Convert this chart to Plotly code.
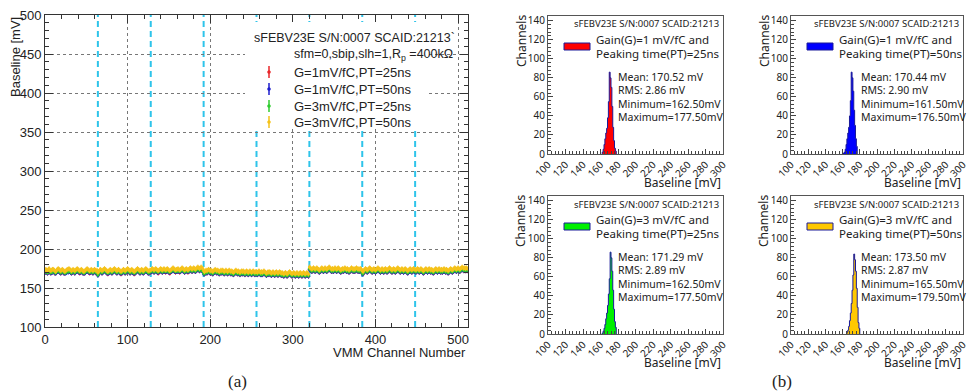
import plotly.graph_objects as go

W, H = 967, 391
def PX(x): return x / W
def PY(y): return 1 - y / H

# ---------------- data ----------------
vmm_boundaries = [64, 128, 192, 256, 320, 384, 448]

baseline_g3_pt50 = [
173,174,173,172,174,175,173,172,173,174,174,173,172,171,173,174,175,174,173,172,173,174,173,172,171,172,173,174,174,175,174,173,
172,173,174,173,172,173,174,175,174,173,172,173,174,173,172,171,172,173,174,175,174,173,172,173,174,173,172,173,174,173,172,173,
170,171,173,174,173,172,173,174,175,174,173,172,171,172,173,174,173,172,173,174,175,174,173,172,173,174,173,172,171,172,173,174,
173,172,173,174,175,174,173,172,173,174,173,172,171,172,173,174,175,174,173,172,173,174,173,172,173,174,175,174,173,172,172,173,
173,174,175,174,173,174,175,174,173,172,173,174,175,174,173,174,175,174,173,174,175,174,173,172,173,174,175,176,175,174,173,174,
174,175,174,173,174,175,176,175,174,173,174,175,174,173,174,175,176,175,174,175,176,175,174,175,176,177,176,175,176,177,176,175,
172,171,172,173,172,173,174,173,172,173,172,171,172,173,174,173,172,173,172,171,172,173,172,173,172,171,172,173,172,171,172,173,
172,171,172,171,170,171,172,173,172,171,172,171,170,171,172,171,172,171,170,171,172,171,170,171,172,171,170,171,172,171,170,171,
171,170,171,172,171,170,171,170,171,172,171,170,169,170,171,170,171,170,169,170,171,170,169,170,171,170,169,170,171,170,169,170,
169,168,169,170,169,168,169,170,171,170,169,168,169,170,169,168,169,170,169,168,169,170,169,168,169,170,169,168,169,170,169,168,
177,176,175,174,175,176,175,174,175,176,175,174,173,174,175,176,175,174,175,176,175,174,175,176,177,176,175,174,175,174,175,176,
175,174,175,176,175,174,173,174,175,174,175,176,175,174,175,174,173,174,175,176,175,174,175,174,175,176,175,174,175,174,175,174,
172,171,173,174,175,174,173,174,175,176,175,174,173,174,175,174,173,174,175,176,175,174,173,174,175,174,173,174,175,174,173,174,
175,176,175,174,173,174,175,174,173,174,175,176,175,174,173,174,175,174,173,174,175,174,173,172,173,174,175,174,173,174,175,174,
174,173,174,175,174,173,174,175,174,173,172,173,174,175,174,173,174,175,174,173,174,173,172,173,174,175,174,173,174,175,174,173,
174,173,174,175,174,173,174,173,172,173,174,175,174,173,174,175,176,175,174,175,176,175,174,175,176,177,176,175,176,175,176,175,
]

baseline_g3_pt25 = [
171,171,172,170,171,173,172,170,171,171,172,172,170,170,171,172,172,173,171,170,172,172,171,170,170,170,171,172,171,173,172,171,
170,171,172,172,170,171,172,173,172,171,171,171,172,171,170,170,170,171,172,173,172,171,171,171,172,171,170,171,172,172,170,171,
167,169,171,172,171,170,171,172,173,172,171,170,170,170,171,172,171,170,171,172,173,172,171,170,171,172,171,170,170,170,171,172,
171,170,171,172,173,172,171,170,171,172,171,170,170,170,171,172,173,172,171,170,171,172,171,170,171,172,173,172,171,170,170,171,
172,172,173,172,171,172,173,172,171,171,172,172,173,172,171,172,173,172,172,172,173,172,171,171,172,172,173,174,173,172,172,172,
172,173,172,172,172,173,174,173,172,171,172,173,172,172,172,173,174,173,172,173,174,173,172,173,174,175,174,173,174,174,173,172,
169,169,170,171,170,171,172,171,170,171,170,169,170,171,172,171,170,171,170,169,170,171,170,171,170,169,170,171,170,169,170,171,
170,169,170,169,168,169,170,171,170,169,170,169,168,169,170,169,170,169,168,169,170,169,168,169,170,169,168,169,170,169,168,169,
169,168,169,170,169,168,168,168,169,170,169,168,167,168,169,168,169,168,167,168,169,168,167,168,169,168,167,168,169,168,167,168,
167,166,167,168,167,166,167,168,169,168,167,166,167,168,167,166,167,168,167,166,167,168,167,166,167,168,167,166,167,168,167,166,
175,174,173,172,173,174,173,172,173,174,173,172,171,172,173,174,173,172,173,174,173,172,173,174,175,174,173,172,173,172,173,174,
173,172,173,174,173,172,171,172,173,172,173,174,173,172,173,172,171,172,173,174,173,172,173,172,173,174,173,172,173,172,173,172,
169,169,171,172,173,172,171,172,173,174,173,172,171,172,173,172,171,172,173,174,173,172,171,172,173,172,171,172,173,172,171,172,
173,174,173,172,171,172,173,172,171,172,173,174,173,172,171,172,173,172,171,172,173,172,171,170,171,172,173,172,171,172,173,172,
172,171,172,173,172,171,172,173,172,171,170,171,172,173,172,171,172,173,172,171,172,171,170,171,172,173,172,171,172,173,172,171,
172,171,172,173,172,171,172,171,170,171,172,173,172,171,172,173,174,173,172,173,174,173,172,173,174,175,174,173,174,173,174,173,
]

baseline_g1_pt50 = [
170,170,171,169,170,172,171,169,170,170,171,171,169,169,170,171,171,172,170,169,171,171,170,169,169,169,170,171,170,172,171,170,
169,170,171,171,169,170,171,172,171,170,170,170,171,170,169,169,169,170,171,172,171,170,170,170,171,170,169,170,171,171,169,170,
166,168,170,171,170,169,170,171,172,171,170,169,169,169,170,171,170,169,170,171,172,171,170,169,170,171,170,169,169,169,170,171,
170,169,170,171,172,171,170,169,170,171,170,169,169,169,170,171,172,171,170,169,170,171,170,169,170,171,172,171,170,169,169,170,
171,171,172,171,170,171,172,171,170,170,171,171,172,171,170,171,172,171,171,171,172,171,170,170,171,171,172,173,172,171,171,171,
171,172,171,171,171,172,173,172,171,170,171,172,171,171,171,172,173,172,171,172,173,172,171,172,173,174,173,172,173,173,172,171,
168,168,169,170,169,170,171,170,169,170,169,168,169,170,171,170,169,170,169,168,169,170,169,170,169,168,169,170,169,168,169,170,
169,168,169,168,167,168,169,170,169,168,169,168,167,168,169,168,169,168,167,168,169,168,167,168,169,168,167,168,169,168,167,168,
168,167,168,169,168,167,167,167,168,169,168,167,166,167,168,167,168,167,166,167,168,167,166,167,168,167,166,167,168,167,166,167,
166,165,166,167,166,165,166,167,168,167,166,165,166,167,166,165,166,167,166,165,166,167,166,165,166,167,166,165,166,167,166,165,
174,173,172,171,172,173,172,171,172,173,172,171,170,171,172,173,172,171,172,173,172,171,172,173,174,173,172,171,172,171,172,173,
172,171,172,173,172,171,170,171,172,171,172,173,172,171,172,171,170,171,172,173,172,171,172,171,172,173,172,171,172,171,172,171,
168,168,170,171,172,171,170,171,172,173,172,171,170,171,172,171,170,171,172,173,172,171,170,171,172,171,170,171,172,171,170,171,
172,173,172,171,170,171,172,171,170,171,172,173,172,171,170,171,172,171,170,171,172,171,170,169,170,171,172,171,170,171,172,171,
171,170,171,172,171,170,171,172,171,170,169,170,171,172,171,170,171,172,171,170,171,170,169,170,171,172,171,170,171,172,171,170,
171,170,171,172,171,170,171,170,169,170,171,172,171,170,171,172,173,172,171,172,173,172,171,172,173,174,173,172,173,172,173,172,
]

baseline_g1_pt25 = [
170,171,170,169,171,171,170,169,170,171,171,170,169,169,170,171,172,171,170,169,170,171,170,169,169,170,170,171,171,172,171,170,
169,170,171,170,169,170,171,172,171,170,169,170,171,170,169,169,169,170,171,172,171,170,169,170,171,170,169,170,171,170,169,170,
167,168,170,171,170,169,170,171,172,171,170,169,168,169,170,171,170,169,170,171,172,171,170,169,170,171,170,169,168,169,170,171,
170,169,170,171,172,171,170,169,170,171,170,169,168,169,170,171,172,171,170,169,170,171,170,169,170,171,172,171,170,169,169,170,
170,171,172,171,170,171,172,171,170,169,170,171,172,171,170,171,172,171,170,171,172,171,170,169,170,171,172,173,172,171,170,171,
171,172,171,170,171,172,173,172,171,170,171,172,171,170,171,172,173,172,171,172,173,172,171,172,173,174,173,172,173,174,173,172,
169,168,169,170,169,170,171,170,169,170,169,168,169,170,171,170,169,170,169,168,169,170,169,170,169,168,169,170,169,168,169,170,
169,168,169,168,167,168,169,170,169,168,169,168,167,168,169,168,169,168,167,168,169,168,167,168,169,168,167,168,169,168,167,168,
168,167,168,169,168,167,168,167,168,169,168,167,166,167,168,167,168,167,166,167,168,167,166,167,168,167,166,167,168,167,166,167,
166,165,166,167,166,165,166,167,168,167,166,165,166,167,166,165,166,167,166,165,166,167,166,165,166,167,166,165,166,167,166,165,
174,173,172,171,172,173,172,171,172,173,172,171,170,171,172,173,172,171,172,173,172,171,172,173,174,173,172,171,172,171,172,173,
172,171,172,173,172,171,170,171,172,171,172,173,172,171,172,171,170,171,172,173,172,171,172,171,172,173,172,171,172,171,172,171,
169,168,170,171,172,171,170,171,172,173,172,171,170,171,172,171,170,171,172,173,172,171,170,171,172,171,170,171,172,171,170,171,
172,173,172,171,170,171,172,171,170,171,172,173,172,171,170,171,172,171,170,171,172,171,170,169,170,171,172,171,170,171,172,171,
171,170,171,172,171,170,171,172,171,170,169,170,171,172,171,170,171,172,171,170,171,170,169,170,171,172,171,170,171,172,171,170,
171,170,171,172,171,170,171,170,169,170,171,172,171,170,171,172,173,172,171,172,173,172,171,172,173,174,173,172,173,172,173,172,
]
baseline_error = 3.0

series_names = ["G=1mV/fC,PT=25ns", "G=1mV/fC,PT=50ns", "G=3mV/fC,PT=25ns", "G=3mV/fC,PT=50ns"]
series_values = [baseline_g1_pt25, baseline_g1_pt50, baseline_g3_pt25, baseline_g3_pt50]
series_colors = ["#e8262a", "#1c1ccc", "#2fcc2f", "#f5c21a"]

# histograms: first bin centre, counts per 1 mV bin
hist1_start, hist1_counts = 162.5, [2,5,10,16,22,27,38,55,86,80,70,50,28,14,6,3]
hist2_start, hist2_counts = 161.5, [1,2,5,10,16,22,28,40,56,86,80,66,46,30,16,8]
hist3_start, hist3_counts = 162.5, [1,3,6,10,16,22,30,42,58,86,80,66,46,26,13,7]
hist4_start, hist4_counts = 165.5, [2,4,8,14,22,32,46,62,84,78,66,48,28,12,6]
hist_bin_width = 1.0

hist_gain = ["1", "1", "3", "3"]
hist_pt = ["25", "50", "25", "50"]
hist_mean = ["170.52", "170.44", "171.29", "173.50"]
hist_rms = ["2.86", "2.90", "2.89", "2.87"]
hist_min = ["162.50", "161.50", "162.50", "165.50"]
hist_max = ["177.50", "176.50", "177.50", "179.50"]
hist_fill = ["#ff0000", "#0000ff", "#00f000", "#ffc800"]
hist_line = "#1a1a99"

# ---------------- figure ----------------
fig = go.Figure()
LFONT = "Liberation Sans, Arial, sans-serif"
RFONT = "Noto Sans, Open Sans, sans-serif"

for name, vals, col in zip(series_names, series_values, series_colors):
    fig.add_trace(go.Scatter(
        x=list(range(len(vals))), y=vals, mode="markers", name=name,
        marker=dict(color=col, size=3, line=dict(width=0)),
        error_y=dict(type="constant", value=baseline_error, color=col, thickness=1, width=0),
        xaxis="x", yaxis="y", showlegend=False, hoverinfo="skip"))

hists = [(hist1_start, hist1_counts), (hist2_start, hist2_counts),
         (hist3_start, hist3_counts), (hist4_start, hist4_counts)]
for i, (start, counts) in enumerate(hists):
    edges = [start - hist_bin_width / 2 + k * hist_bin_width for k in range(len(counts) + 1)]
    xs = [edges[0]] + edges
    ys = [0] + list(counts) + [0]
    fig.add_trace(go.Scatter(
        x=xs, y=ys, mode="lines", line=dict(shape="hv", color=hist_line, width=1),
        fill="tozeroy", fillcolor=hist_fill[i],
        xaxis=f"x{i+2}", yaxis=f"y{i+2}", showlegend=False, hoverinfo="skip"))

axcol = "#333"
left_x = dict(domain=[PX(45), PX(468)], range=[0, 512], tickvals=[0, 100, 200, 300, 400, 500],
              ticks="inside", ticklen=8, tickcolor=axcol, showline=True, linecolor=axcol, mirror="allticks",
              showgrid=True, gridcolor="#777", griddash="dot", gridwidth=1, zeroline=False, automargin=False,
              minor=dict(dtick=20, tick0=0, ticks="inside", ticklen=4, tickcolor=axcol, showgrid=False),
              tickfont=dict(family=LFONT, size=13, color="#222"), anchor="y")
left_y = dict(domain=[PY(327), PY(15)], range=[100, 500], dtick=50, tick0=100,
              ticks="inside", ticklen=8, tickcolor=axcol, showline=True, linecolor=axcol, mirror="allticks",
              showgrid=True, gridcolor="#777", griddash="dot", gridwidth=1, zeroline=False, automargin=False,
              minor=dict(dtick=10, tick0=100, ticks="inside", ticklen=4, tickcolor=axcol, showgrid=False),
              tickfont=dict(family=LFONT, size=13, color="#222"), anchor="x")
layout = dict(xaxis=left_x, yaxis=left_y)

panels = [(548, 723, 16, 154), (791, 963, 16, 154), (548, 723, 196, 334), (791, 963, 196, 334)]
for i, (l, r, t, b) in enumerate(panels):
    n = i + 2
    layout[f"xaxis{n}"] = dict(domain=[PX(l), PX(r)], range=[100, 300], tick0=100, dtick=20,
        ticks="inside", ticklen=5, tickcolor="#444", showline=True, linecolor="#555", mirror=True,
        showgrid=False, zeroline=False, tickangle=-45, automargin=False, ticklabeloverflow="allow",
        minor=dict(dtick=4, ticks="inside", ticklen=3, tickcolor="#444"),
        tickfont=dict(family=RFONT, size=10, color="#222"), anchor=f"y{n}")
    layout[f"yaxis{n}"] = dict(domain=[PY(b), PY(t)], range=[0, 145], tick0=0, dtick=20,
        ticks="inside", ticklen=5, tickcolor="#444", showline=True, linecolor="#555", mirror=True,
        showgrid=False, zeroline=False, automargin=False,
        minor=dict(dtick=4, ticks="inside", ticklen=3, tickcolor="#444"),
        tickfont=dict(family=RFONT, size=10, color="#222"), anchor=f"x{n}")

shapes = []
for bnd in vmm_boundaries:
    shapes.append(dict(type="line", xref="x", yref="y domain", x0=bnd, x1=bnd, y0=0, y1=1,
                       line=dict(color="#2ec4ea", width=2, dash="6px,4px"), layer="below"))
# legend box (left) in axis-domain fractions
def DX(x): return (x - 45) / (468 - 45)
def DY(y): return (327 - y) / (327 - 15)
shapes.append(dict(type="rect", xref="x domain", yref="y domain", x0=DX(245), x1=DX(428),
                   y0=DY(129), y1=DY(22), fillcolor="white", line=dict(width=0), layer="above"))
ann = []
def A(x, y, text, size, family, xanchor="left", yanchor="middle", angle=0, color="#222"):
    ann.append(dict(x=PX(x), y=PY(y), xref="paper", yref="paper", text=text, showarrow=False,
                    xanchor=xanchor, yanchor=yanchor, textangle=angle,
                    font=dict(size=size, family=family, color=color)))

A(252, 38, "sFEBV23E S/N:0007 SCAID:21213`", 12.5, LFONT)
A(292, 55, "sfm=0,sbip,slh=1,R<sub>p</sub> =400kΩ", 12.5, LFONT)
for k, (name, col) in enumerate(zip(series_names, series_colors)):
    yy = [72, 89, 106, 122][k]
    shapes.append(dict(type="line", xref="paper", yref="paper", x0=PX(269), x1=PX(269),
                       y0=PY(yy - 6), y1=PY(yy + 6), line=dict(color=col, width=1.5)))
    shapes.append(dict(type="circle", xref="paper", yref="paper", x0=PX(267.5), x1=PX(270.5),
                       y0=PY(yy + 1.5), y1=PY(yy - 1.5), fillcolor=col, line=dict(color=col, width=0.5)))
    A(292, yy, name, 13, LFONT)
A(15, 15, "Baseline [mV]", 13, LFONT, xanchor="center", yanchor="top", angle=-90)
A(468, 352, "VMM Channel Number", 13, LFONT, xanchor="right")
A(237, 381, "(a)", 17, "Liberation Serif, Times New Roman, serif", xanchor="center")
A(782, 381, "(b)", 17, "Liberation Serif, Times New Roman, serif", xanchor="center")

for i, (l, r, t, b) in enumerate(panels):
    A(r - 2, t + 8, "sFEBV23E S/N:0007 SCAID:21213", 9.5, RFONT, xanchor="right")
    shapes.append(dict(type="rect", xref="paper", yref="paper", x0=PX(l + 16), x1=PX(l + 42),
                       y0=PY(t + 34), y1=PY(t + 27), fillcolor=hist_fill[i], line=dict(color=hist_line, width=1)))
    A(l + 46, t + 23, f"Gain(G)={hist_gain[i]} mV/fC and", 11.5, RFONT)
    A(l + 46, t + 37, f"Peaking time(PT)={hist_pt[i]}ns", 11.5, RFONT)
    A(l + 68, t + 61, f"Mean: {hist_mean[i]} mV", 10.5, RFONT)
    A(l + 68, t + 74, f"RMS: {hist_rms[i]} mV", 10.5, RFONT)
    A(l + 68, t + 88, f"Minimum={hist_min[i]}mV", 10.5, RFONT)
    A(l + 68, t + 101, f"Maximum={hist_max[i]}mV", 10.5, RFONT)
    A(l - 27, t - 3, "Channels", 12, RFONT, xanchor="center", yanchor="top", angle=-90)
    A(r, b + 28, "Baseline [mV]", 12, RFONT, xanchor="right")

layout.update(width=W, height=H, margin=dict(l=0, r=0, t=0, b=0), paper_bgcolor="white",
              plot_bgcolor="white", shapes=shapes, annotations=ann, showlegend=False)
fig.update_layout(**layout)
fig.write_html("out.html", config={"displayModeBar": False, "staticPlot": True},
               post_script="document.body.style.margin='0';document.body.style.overflow='hidden';")
